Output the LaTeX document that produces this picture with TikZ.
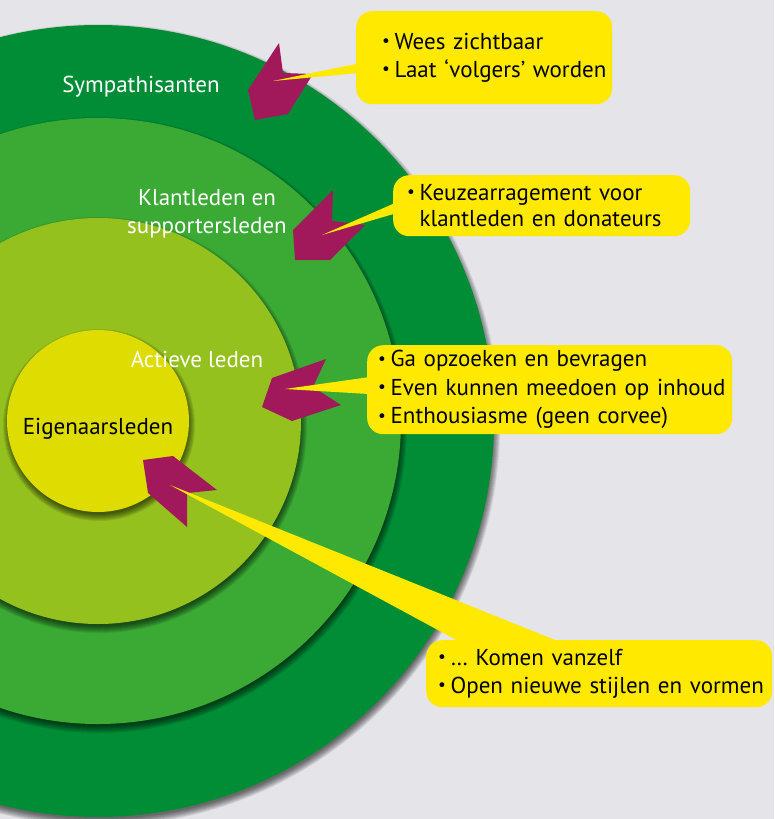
\documentclass[tikz,border=0pt]{standalone}
\usepackage{fontspec}
\setmainfont{PT Sans}
\usetikzlibrary{calc}

\definecolor{bgGray}{HTML}{E5E4E9}
\definecolor{ringOuter}{HTML}{008D36}
\definecolor{ringMid}{HTML}{3AAA35}
\definecolor{ringInner}{HTML}{95C11F}
\definecolor{ringCore}{HTML}{DEDC00}
\definecolor{calloutYellow}{HTML}{FFE900}
\definecolor{dartMagenta}{HTML}{A2195B}

\newcommand\smallbullet{\raisebox{0.12em}{\scalebox{0.75}{\textbullet}}}
\newcommand\bul[1]{\mbox{\smallbullet\hspace{0.2em}#1}}

\tikzset{
  ring label/.style={text=white, inner sep=0pt, align=center,
    font=\fontsize{23}{28}\selectfont},
  callout/.style={fill=calloutYellow, rounded corners=16pt, anchor=north west,
    align=left, inner ysep=0pt, font=\fontsize{23}{28.5}\selectfont},
  pointer/.style={fill=calloutYellow},
  dart/.style={fill=dartMagenta}
}

\begin{document}
\begin{tikzpicture}[x=1pt, y=-1pt]
  \useasboundingbox (0,0) rectangle (774,819);
  \clip (0,0) rectangle (774,819);
  \fill[bgGray] (0,0) rectangle (774,819);

  % rings, outside in, each with a soft shadow
  \coordinate (c) at (98,421);
  \foreach \r/\col in {396/ringOuter, 303/ringMid, 203/ringInner, 91/ringCore}{
    \foreach \k in {0,...,7}
      \fill[black, opacity=0.09] ($(c)+(1,4)$) circle ({\r-2+\k});
    \fill[\col] (c) circle (\r);
  }

  \node[ring label, anchor=base] (sympathisanten) at (141,92) {Sympathisanten};
  \node[ring label] (klantleden) at (207,214) {Klantleden en\\supportersleden};
  \node[ring label, anchor=base] (actieve) at (197,367) {Actieve leden};
  \node[ring label, text=black, anchor=base] (eigenaars) at (98,434) {Eigenaarsleden};

  % darts
  \fill[dart] (279,43) -- (283,73) -- (313,74) -- (288,114) -- (255,120) -- (248,90) -- cycle;
  \fill[dart] (333,190) -- (332,221) -- (365,225) -- (330,260) -- (295,260) -- (293,230) -- cycle;
  \fill[dart] (326,359) -- (313,387) -- (341,405) -- (292,421) -- (262,407) -- (272,378) -- cycle;
  \fill[dart] (143,460) -- (173,456) -- (217,490) -- (187,493) -- (187,527) -- (148,493) -- cycle;
  \coordinate (tip1) at (273,81);
  \coordinate (tip2) at (322,235);
  \coordinate (tip3) at (285,389);
  \coordinate (tip4) at (170,485);

  % callouts
  \node[callout, inner xsep=26pt, text width=204pt, minimum height=93pt] (box1) at (356,11)
    {\bul{Wees zichtbaar}\\\bul{Laat ‘volgers’ worden}};
  \node[callout, inner xsep=14pt, text width=269pt, minimum height=61pt, font=\fontsize{23}{26}\selectfont] (box2) at (393,175)
    {\bul{Keuzearragement voor}\\\phantom{\smallbullet\hspace{0.2em}}klantleden en donateurs};
  \node[callout, inner xsep=11pt, text width=343pt, minimum height=89pt] (box3) at (367,345)
    {\bul{Ga opzoeken en bevragen}\\\bul{Even kunnen meedoen op inhoud}\\\bul{Enthousiasme (geen corvee)}};
  \node[callout, inner xsep=12pt, text width=322pt, minimum height=67pt] (box4) at (426,640)
    {\bul{… Komen vanzelf}\\\bul{Open nieuwe stijlen en vormen}};

  \fill[pointer] ($(box1.west)+(6,5)$) -- (tip1) -- ($(box1.west)+(6,15)$) -- cycle;
  \fill[pointer] ($(box2.west)+(5,-4)$) -- (tip2) -- ($(box2.west)+(5,7)$) -- cycle;
  \fill[pointer] ($(box3.west)+(5,-13)$) -- (tip3) -- ($(box3.west)+(5,4.5)$) -- cycle;
  \fill[pointer] ($(box4.north west)+(34,2)$) -- (tip4) -- ($(box4.north west)+(134,2)$) -- cycle;
\end{tikzpicture}
\end{document}
